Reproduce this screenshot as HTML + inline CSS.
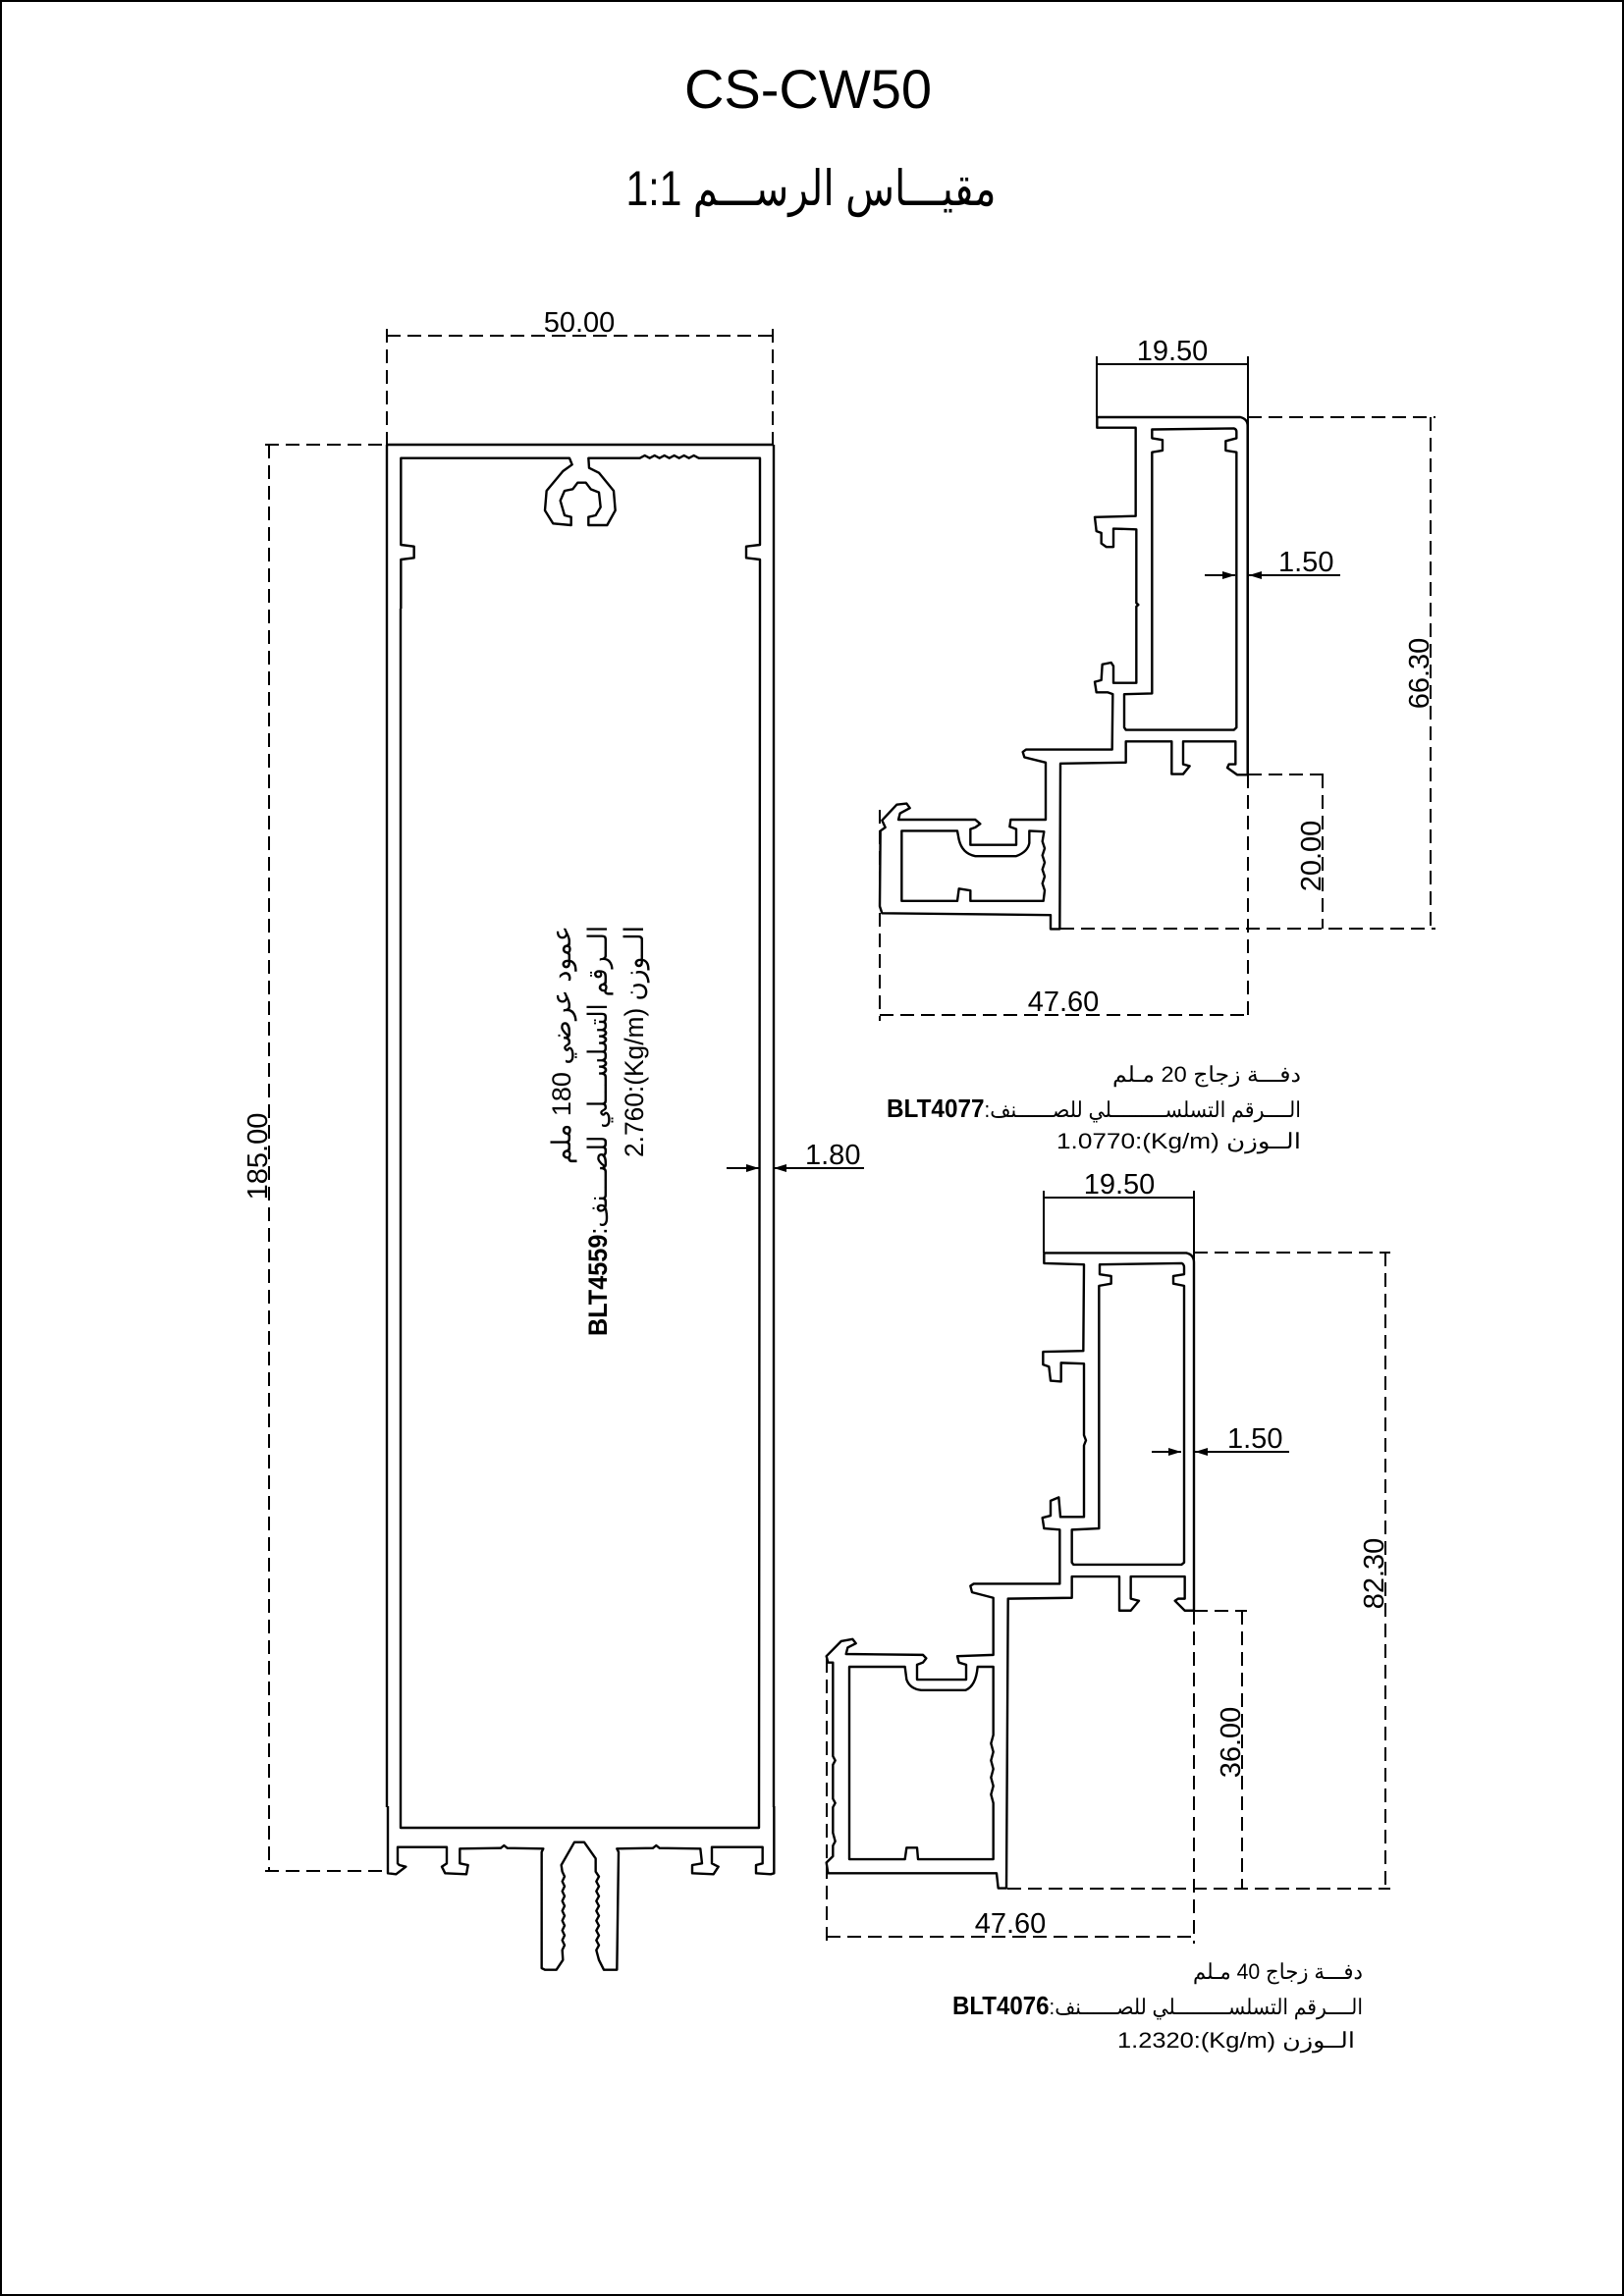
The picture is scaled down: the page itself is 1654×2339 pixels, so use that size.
<!DOCTYPE html>
<html><head><meta charset="utf-8">
<style>
html,body{margin:0;padding:0;background:#fff;}
svg{display:block;}
text{font-family:"Liberation Sans","Noto Sans CJK SC",sans-serif;fill:#000;}
</style></head>
<body>
<svg width="1654" height="2339" viewBox="0 0 1654 2339" xmlns="http://www.w3.org/2000/svg">
<rect x="1" y="1" width="1652" height="2337" fill="none" stroke="#000" stroke-width="2"/>

<text x="823" y="110" font-size="56" text-anchor="middle">CS-CW50</text>
<text x="826" y="209" font-size="50" text-anchor="middle" direction="rtl" textLength="377" lengthAdjust="spacingAndGlyphs">مقيـــاس الرســـم 1:1</text>

<g fill="none" stroke="#000" stroke-width="2.4" stroke-linejoin="round">
<!-- BIG PROFILE -->
<line x1="394" y1="453" x2="787" y2="453"/>
<line x1="394" y1="453" x2="394" y2="1841"/>
<line x1="788" y1="453" x2="788" y2="1841"/>
<g transform="translate(380,420) scale(0.33333)">
<path vector-effect="non-scaling-stroke" d="M85,600 L85,450 L125,445 L125,410 L85,405 L85,140 L600,140 L608,160 L580,180 L530,240 L525,300 L550,340 L605,345 L605,320 L585,315 L572,270 L585,240 L610,235 L625,215 L650,215 L665,235 L690,245 L695,290 L680,315 L658,320 L658,345 L715,345 L740,300 L735,240 L690,185 L660,170 L658,140 L815,140 L830,132 L845,140 L860,132 L875,140 L890,132 L905,140 L920,132 L935,140 L950,132 L965,140 L980,132 L995,140 L1182,140 L1182,405 L1140,410 L1140,445 L1182,450 L1182,600"/>
</g>
<path d="M408,620 L408,1862 L773,1862 L774,620"/>
<g transform="translate(390,1840) scale(0.33333)">
<path vector-effect="non-scaling-stroke" d="M15,0 L15,205 L40,208 L70,185 L50,180 L45,175 L45,125 L195,125 L195,175 L180,185 L190,205 L255,208 L260,180 L235,175 L235,130 L360,128 L370,120 L380,128 L490,130 L485,140 L485,495 L495,500 L530,500 L550,470 L548,440 L555,425 L548,410 L555,395 L548,380 L555,365 L548,350 L555,335 L548,320 L555,305 L548,290 L555,275 L548,260 L555,245 L548,230 L555,215 L548,200 L545,180 L585,110 L615,110 L650,160 L650,200 L660,215 L652,230 L660,245 L652,260 L660,275 L652,290 L660,305 L652,320 L660,335 L652,350 L660,365 L652,380 L660,395 L652,410 L660,425 L652,440 L660,470 L675,500 L715,500 L720,140 L715,130 L825,128 L835,120 L845,128 L970,130 L975,175 L945,180 L945,205 L1010,208 L1025,185 L1005,175 L1005,125 L1160,125 L1160,175 L1140,180 L1140,205 L1185,208 L1195,205 L1195,0"/>
</g>

<!-- PROFILE 1 -->
<g transform="translate(880,400) scale(0.33333,0.35714)">
<path vector-effect="non-scaling-stroke" d="M712,70 L1150,70 Q1172,75 1172,95 L1172,1090 L1140,1090 L1110,1070 L1115,1060 L1135,1060 L1135,995 L975,995 L975,1060 L995,1065 L975,1088 L940,1088 L940,995 L800,995 L800,1055 L600,1058 L598,1530 L570,1530 L570,1490 L55,1485 L48,1465 L50,1250 L65,1240 L55,1220 L100,1175 L130,1172 L140,1185 L110,1200 L105,1218 L340,1218 L355,1230 L340,1240 L325,1245 L325,1290 L465,1290 L465,1245 L445,1238 L448,1218 L555,1218 L555,1055 L490,1040 L485,1025 L495,1018 L758,1018 L760,860 L745,855 L710,855 L705,825 L725,820 L728,775 L755,770 L762,780 L762,828 L832,828 L832,610 L838,605 L832,600 L832,390 L762,388 L762,440 L740,440 L725,430 L725,400 L710,395 L705,355 L830,352 L830,100 L712,100 Z"/>
<path vector-effect="non-scaling-stroke" d="M880,105 L1130,102 Q1138,104 1138,112 L1138,130 L1105,138 L1105,165 L1138,170 L1138,955 L1130,962 L800,962 L795,955 L795,860 L880,858 L880,170 L912,165 L912,135 L880,130 Z"/>
<path vector-effect="non-scaling-stroke" d="M115,1250 L285,1250 L290,1275 Q300,1315 340,1322 L465,1322 Q500,1310 505,1285 L505,1250 L550,1252 L545,1280 L552,1300 L545,1320 L552,1340 L545,1360 L552,1380 L545,1400 L552,1420 L548,1450 L325,1450 L325,1420 L290,1415 L285,1450 L115,1450 Z"/>
</g>

<!-- PROFILE 2 -->
<g transform="translate(830,1260) scale(0.33333,0.43367)">
<path vector-effect="non-scaling-stroke" d="M700,38 L1135,38 Q1158,42 1158,60 L1158,878 L1130,878 L1100,855 L1110,850 L1130,850 L1130,798 L965,798 L965,850 L990,855 L965,878 L930,878 L930,798 L785,798 L785,848 L590,850 L585,1530 L560,1530 L555,1495 L40,1495 L35,1470 L55,1455 L55,1430 L62,1420 L55,1400 L55,1340 L62,1330 L55,1320 L55,1240 L62,1230 L55,1220 L55,1000 L40,1000 L35,985 L80,950 L115,945 L125,955 L100,965 L95,980 L330,982 L340,990 L330,1000 L312,1005 L312,1040 L462,1040 L462,1005 L440,1000 L435,985 L545,982 L545,848 L480,835 L475,820 L485,815 L748,815 L748,688 L700,685 L695,660 L720,655 L720,620 L745,612 L750,658 L822,658 L822,490 L828,478 L822,466 L822,298 L752,296 L752,340 L720,338 L715,305 L697,300 L697,270 L820,268 L822,65 L700,62 Z"/>
<path vector-effect="non-scaling-stroke" d="M870,65 L1120,62 Q1128,64 1128,72 L1128,88 L1095,92 L1095,110 L1128,115 L1128,765 L1120,770 L790,770 L785,765 L785,688 L868,685 L868,115 L905,110 L905,92 L870,88 Z"/>
<path vector-effect="non-scaling-stroke" d="M105,1010 L275,1010 L280,1040 Q290,1062 325,1065 L460,1065 Q492,1055 497,1010 L545,1010 L545,1170 L538,1190 L545,1210 L538,1230 L545,1250 L538,1270 L545,1290 L538,1310 L545,1330 L545,1462 L315,1462 L312,1435 L280,1435 L275,1462 L105,1462 Z"/>
</g>
</g>

<!-- DIMENSION LINES (dashed) -->
<g fill="none" stroke="#000" stroke-width="2" stroke-dasharray="14,7">
<line x1="394" y1="335" x2="394" y2="453"/>
<line x1="787" y1="335" x2="787" y2="453"/>
<line x1="394" y1="342" x2="787" y2="342"/>
<line x1="270" y1="453" x2="394" y2="453"/>
<line x1="270" y1="1906" x2="394" y2="1906"/>
<line x1="274" y1="453" x2="274" y2="1906"/>
<line x1="1271" y1="425" x2="1462" y2="425"/>
<line x1="1080" y1="946" x2="1462" y2="946"/>
<line x1="1457" y1="425" x2="1457" y2="946"/>
<line x1="1271" y1="789" x2="1352" y2="789"/>
<line x1="1347" y1="789" x2="1347" y2="946"/>
<line x1="896" y1="825" x2="896" y2="1040"/>
<line x1="1271" y1="789" x2="1271" y2="1040"/>
<line x1="896" y1="1034" x2="1271" y2="1034"/>
<line x1="1216" y1="1276" x2="1416" y2="1276"/>
<line x1="1026" y1="1924" x2="1416" y2="1924"/>
<line x1="1411" y1="1276" x2="1411" y2="1924"/>
<line x1="1216" y1="1641" x2="1270" y2="1641"/>
<line x1="1265" y1="1641" x2="1265" y2="1924"/>
<line x1="842" y1="1690" x2="842" y2="1980"/>
<line x1="1216" y1="1641" x2="1216" y2="1980"/>
<line x1="842" y1="1973" x2="1216" y2="1973"/>
</g>

<g fill="none" stroke="#000" stroke-width="2">
<line x1="1117" y1="363" x2="1117" y2="425"/>
<line x1="1271" y1="363" x2="1271" y2="789"/>
<line x1="1117" y1="371" x2="1271" y2="371"/>
<line x1="1063" y1="1213" x2="1063" y2="1276"/>
<line x1="1216" y1="1213" x2="1216" y2="1641"/>
<line x1="1063" y1="1220" x2="1216" y2="1220"/>
<line x1="740" y1="1190" x2="773" y2="1190"/>
<line x1="787" y1="1190" x2="880" y2="1190"/>
<line x1="1227" y1="586" x2="1258" y2="586"/>
<line x1="1271" y1="586" x2="1365" y2="586"/>
<line x1="1173" y1="1479" x2="1203" y2="1479"/>
<line x1="1216" y1="1479" x2="1313" y2="1479"/>
</g>
<g fill="#000">
<polygon points="773,1190 760,1186 760,1194"/>
<polygon points="788,1190 801,1186 801,1194"/>
<polygon points="1258,586 1245,582 1245,590"/>
<polygon points="1272,586 1285,582 1285,590"/>
<polygon points="1203,1479 1190,1475 1190,1483"/>
<polygon points="1217,1479 1230,1475 1230,1483"/>
</g>

<g font-size="29">
<text x="590" y="338" text-anchor="middle">50.00</text>
<text transform="translate(272,1178) rotate(-90)" text-anchor="middle">185.00</text>
<text x="820" y="1186">1.80</text>
<text x="1194" y="367" text-anchor="middle">19.50</text>
<text x="1302" y="582">1.50</text>
<text transform="translate(1455,686) rotate(-90)" text-anchor="middle">66.30</text>
<text transform="translate(1345,872) rotate(-90)" text-anchor="middle">20.00</text>
<text x="1083" y="1030" text-anchor="middle">47.60</text>
<text x="1140" y="1216" text-anchor="middle">19.50</text>
<text x="1250" y="1475">1.50</text>
<text transform="translate(1409,1603) rotate(-90)" text-anchor="middle">82.30</text>
<text transform="translate(1263,1775) rotate(-90)" text-anchor="middle">36.00</text>
<text x="1029" y="1969" text-anchor="middle">47.60</text>
</g>

<g font-size="27">
<text transform="translate(581,943) rotate(-90)" text-anchor="end" textLength="243" lengthAdjust="spacingAndGlyphs">عمود عرضي 180 ملم</text>
<text transform="translate(618,943) rotate(-90)" text-anchor="end" textLength="418" lengthAdjust="spacingAndGlyphs"><tspan font-weight="bold">BLT4559</tspan>:الــرقم التسلســـلي للصـــنف</text>
<text transform="translate(655,943) rotate(-90)" text-anchor="end" textLength="236" lengthAdjust="spacingAndGlyphs">2.760:(Kg/m) الــوزن</text>
</g>

<g font-size="22">
<text x="1325" y="1102" text-anchor="end" textLength="192" lengthAdjust="spacingAndGlyphs">دفـــة زجاج 20 مـلم</text>
<text x="1325" y="1138" text-anchor="end" textLength="422" lengthAdjust="spacingAndGlyphs"><tspan font-weight="bold" font-size="26">BLT4077</tspan>:الــــرقم التسلســـــــــلي للصــــــنف</text>
<text x="1325" y="1170" text-anchor="end" textLength="249" lengthAdjust="spacingAndGlyphs">1.0770:(Kg/m) الــوزن</text>

<text x="1388" y="2016" text-anchor="end" textLength="173" lengthAdjust="spacingAndGlyphs">دفـــة زجاج 40 مـلم</text>
<text x="1388" y="2052" text-anchor="end" textLength="418" lengthAdjust="spacingAndGlyphs"><tspan font-weight="bold" font-size="26">BLT4076</tspan>:الــــرقم التسلســـــــــلي للصــــــنف</text>
<text x="1380" y="2086" text-anchor="end" textLength="242" lengthAdjust="spacingAndGlyphs">1.2320:(Kg/m) الــوزن</text>
</g>
</svg>
</body></html>
